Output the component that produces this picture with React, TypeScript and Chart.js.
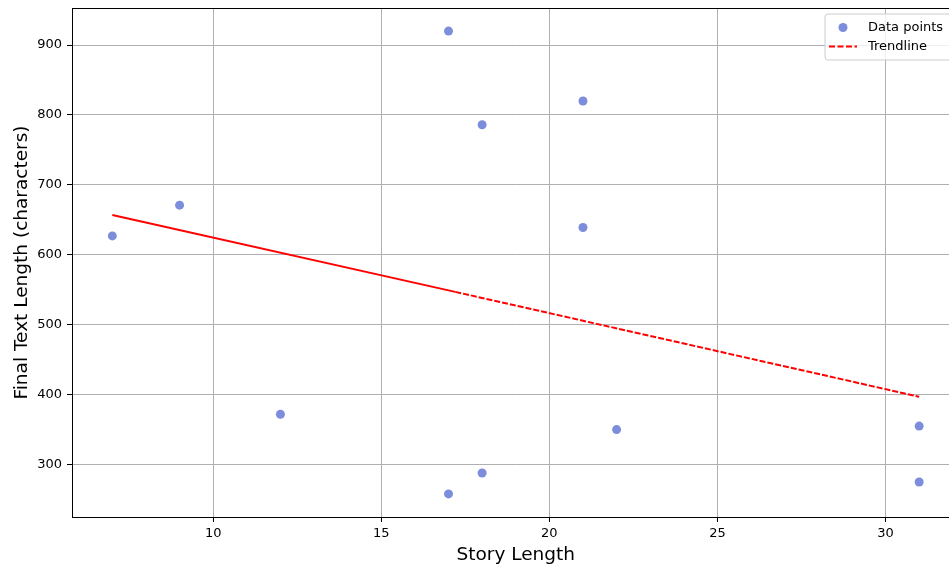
import React, { useEffect, useRef } from 'react';
import { Chart, registerables } from 'chart.js';

Chart.register(...registerables);

// ---- data ----
const storyLength = [7, 9, 12, 17, 17, 18, 18, 21, 21, 22, 31, 31];
const finalTextLength = [627, 671, 372, 920, 258, 786, 288, 820, 639, 350, 355, 275];
const trendX = [7, 17.2, 31];
const trendY = [657, 547, 397];
const xTicks = [10, 15, 20, 25, 30];
const yTicks = [300, 400, 500, 600, 700, 800, 900];
const xLimits = [5.8, 32.2];
const yLimits = [225, 953];

const FONT = "'DejaVu Sans', sans-serif";
const POINT_COLOR = 'rgba(54, 80, 200, 0.65)';
const TREND_COLOR = '#ff0000';

const framePlugin = {
  id: 'frameAndLegend',
  afterDraw(chart: any) {
    const { ctx, chartArea: a } = chart;
    ctx.save();
    ctx.strokeStyle = '#000';
    ctx.lineWidth = 1;
    ctx.strokeRect(Math.round(a.left) + 0.5, Math.round(a.top) + 0.5, a.right - a.left, a.bottom - a.top);

    // legend box (upper right)
    const right = a.right - 6;
    const top = a.top + 6;
    const left = 825;
    const bottom = top + 46;
    const r = 3;
    ctx.beginPath();
    ctx.moveTo(left + r, top);
    ctx.lineTo(right - r, top);
    ctx.arcTo(right, top, right, top + r, r);
    ctx.lineTo(right, bottom - r);
    ctx.arcTo(right, bottom, right - r, bottom, r);
    ctx.lineTo(left + r, bottom);
    ctx.arcTo(left, bottom, left, bottom - r, r);
    ctx.lineTo(left, top + r);
    ctx.arcTo(left, top, left + r, top, r);
    ctx.closePath();
    ctx.fillStyle = 'rgba(255,255,255,0.8)';
    ctx.fill();
    ctx.strokeStyle = '#cccccc';
    ctx.lineWidth = 1;
    ctx.stroke();

    const ds = chart.data.datasets;
    const row1 = top + 13.5;
    const row2 = top + 32.5;
    ctx.beginPath();
    ctx.arc(843, row1, 4.5, 0, Math.PI * 2);
    ctx.fillStyle = POINT_COLOR;
    ctx.fill();
    ctx.beginPath();
    ctx.setLineDash([6, 2.5]);
    ctx.moveTo(829, row2);
    ctx.lineTo(857, row2);
    ctx.strokeStyle = TREND_COLOR;
    ctx.lineWidth = 2;
    ctx.stroke();
    ctx.setLineDash([]);

    ctx.fillStyle = '#000';
    ctx.font = `13px ${FONT}`;
    ctx.textAlign = 'left';
    ctx.textBaseline = 'middle';
    ctx.fillText(ds[0].label, 868, row1);
    ctx.fillText(ds[1].label, 868, row2);
    ctx.restore();
  },
};

export default function App() {
  const ref = useRef<HTMLCanvasElement | null>(null);

  useEffect(() => {
    document.body.style.margin = '0';
    document.body.style.overflow = 'hidden';
    const canvas = ref.current;
    if (!canvas) return;

    const chart = new Chart(canvas, {
      type: 'scatter',
      data: {
        datasets: [
          {
            label: 'Data points',
            data: storyLength.map((x, i) => ({ x, y: finalTextLength[i] })),
            backgroundColor: POINT_COLOR,
            borderColor: POINT_COLOR,
            borderWidth: 0,
            pointRadius: 4.5,
            pointHoverRadius: 4.5,
            order: 2,
          },
          {
            type: 'line',
            label: 'Trendline',
            data: trendX.map((x, i) => ({ x, y: trendY[i] })),
            borderColor: TREND_COLOR,
            backgroundColor: TREND_COLOR,
            borderWidth: 2,
            segment: {
              borderDash: (c: any) => (c.p0DataIndex === 0 ? [] : [6, 2]),
            },
            pointRadius: 0,
            showLine: true,
            fill: false,
            order: 1,
          } as any,
        ],
      },
      options: {
        responsive: false,
        animation: false,
        layout: { padding: { left: 0, right: 2, top: 8, bottom: 0 } },
        plugins: {
          legend: { display: false },
          tooltip: { enabled: false },
        },
        scales: {
          x: {
            type: 'linear',
            min: xLimits[0],
            max: xLimits[1],
            afterBuildTicks: (scale: any) => {
              scale.ticks = xTicks.map((v) => ({ value: v }));
            },
            afterFit: (scale: any) => {
              scale.height = 49;
              scale.paddingLeft = 0;
              scale.paddingRight = 0;
            },
            ticks: {
              color: '#000',
              font: { family: FONT, size: 13 },
              padding: 4,
              maxRotation: 0,
              autoSkip: false,
            },
            grid: {
              color: '#b0b0b0',
              lineWidth: 1,
              tickColor: '#000',
              tickLength: 5,
              drawTicks: true,
            },
            border: { display: true, color: '#000', width: 1 },
            title: {
              display: true,
              text: 'Story Length',
              color: '#000',
              font: { family: FONT, size: 18.5 },
              padding: { top: 0, bottom: 0 },
            },
          },
          y: {
            type: 'linear',
            min: yLimits[0],
            max: yLimits[1],
            afterBuildTicks: (scale: any) => {
              scale.ticks = yTicks.map((v) => ({ value: v }));
            },
            afterFit: (scale: any) => {
              scale.width = 72;
              scale.paddingTop = 0;
              scale.paddingBottom = 0;
            },
            ticks: {
              color: '#000',
              font: { family: FONT, size: 13 },
              padding: 5,
              autoSkip: false,
            },
            grid: {
              color: '#b0b0b0',
              lineWidth: 1,
              tickColor: '#000',
              tickLength: 5,
              drawTicks: true,
            },
            border: { display: true, color: '#000', width: 1 },
            title: {
              display: true,
              text: 'Final Text Length (characters)',
              color: '#000',
              font: { family: FONT, size: 18.5 },
              padding: { top: 11, bottom: 0 },
            },
          },
        },
      },
      plugins: [framePlugin],
    });

    return () => {
      chart.destroy();
    };
  }, []);

  return (
    <div style={{ width: 949, height: 566, overflow: 'hidden' }}>
      <canvas ref={ref} width={964} height={566} style={{ display: 'block', width: 964, height: 566 }} />
    </div>
  );
}
